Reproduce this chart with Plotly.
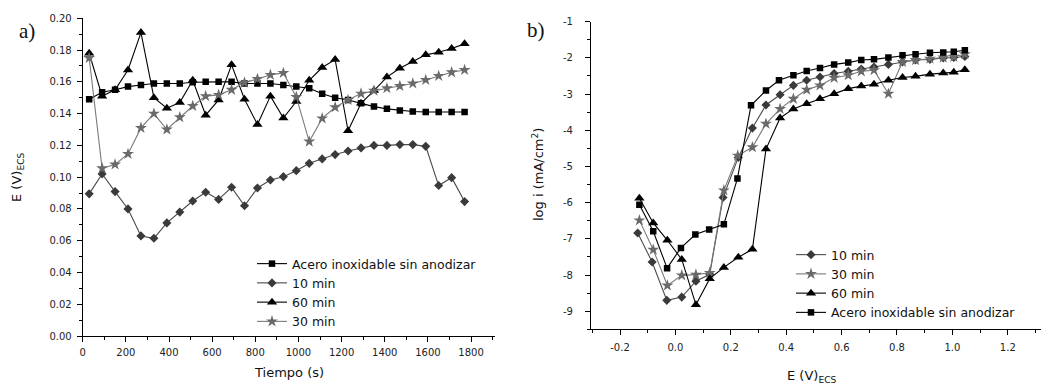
import plotly.graph_objects as go

# ---------------- panel a) : E vs tiempo ----------------
tiempo = [30, 90, 150, 210, 270, 330, 390, 450, 510, 570, 630, 690, 750, 810, 870,
          930, 990, 1050, 1110, 1170, 1230, 1290, 1350, 1410, 1470, 1530, 1590, 1650, 1710, 1770]
E_acero = [0.149, 0.1535, 0.155, 0.157, 0.158, 0.159, 0.159, 0.159, 0.1597, 0.160,
           0.160, 0.160, 0.159, 0.159, 0.159, 0.158, 0.157, 0.156, 0.1525, 0.150,
           0.1486, 0.1465, 0.1444, 0.143, 0.142, 0.1413, 0.141, 0.141, 0.141, 0.141]
E_10 = [0.0895, 0.102, 0.0909, 0.080, 0.063, 0.0615, 0.0712, 0.078, 0.085, 0.0905,
        0.086, 0.0936, 0.082, 0.0932, 0.0982, 0.1003, 0.1041, 0.1087, 0.1115, 0.1142,
        0.1165, 0.1184, 0.120, 0.120, 0.1205, 0.1205, 0.1194, 0.0947, 0.0997, 0.0846]
E_60 = [0.178, 0.151, 0.155, 0.1675, 0.191, 0.150, 0.1434, 0.147, 0.161, 0.139,
        0.1486, 0.1707, 0.149, 0.1332, 0.151, 0.1372, 0.1476, 0.161, 0.169, 0.174,
        0.1292, 0.1465, 0.1545, 0.163, 0.1685, 0.1728, 0.177, 0.1786, 0.181, 0.1839]
E_30 = [0.175, 0.1056, 0.108, 0.1146, 0.131, 0.140, 0.130, 0.1377, 0.1448, 0.151,
        0.1518, 0.155, 0.1595, 0.1618, 0.1644, 0.1656, 0.1505, 0.1224, 0.137, 0.144,
        0.1486, 0.1526, 0.1545, 0.156, 0.1574, 0.159, 0.1612, 0.1637, 0.166, 0.1675]

# ---------------- panel b) : log i vs E ----------------
Eb_acero = [-0.13, -0.08, -0.03, 0.02, 0.072, 0.122, 0.175, 0.224, 0.273, 0.327, 0.374, 0.426, 0.474,
            0.522, 0.573, 0.624, 0.671, 0.717, 0.769, 0.82, 0.867, 0.919, 0.967, 1.005, 1.045]
logi_acero = [-6.06, -6.79, -7.81, -7.25, -6.88, -6.74, -6.6, -5.33, -3.31, -2.90, -2.62, -2.48, -2.36,
              -2.28, -2.18, -2.13, -2.06, -2.04, -1.99, -1.93, -1.90, -1.86, -1.85, -1.83, -1.79]
Eb_10 = [-0.136, -0.084, -0.031, 0.023, 0.074, 0.124, 0.172, 0.227, 0.278, 0.327, 0.378, 0.426, 0.474,
         0.522, 0.573, 0.624, 0.671, 0.717, 0.769, 0.82, 0.867, 0.919, 0.967, 1.005, 1.045]
logi_10 = [-6.84, -7.64, -8.70, -8.61, -8.17, -7.98, -5.86, -4.75, -3.94, -3.30, -3.02, -2.76, -2.62,
           -2.53, -2.43, -2.37, -2.31, -2.25, -2.18, -2.11, -2.06, -2.04, -2.00, -1.99, -1.96]
Eb_30 = [-0.13, -0.08, -0.029, 0.023, 0.074, 0.124, 0.175, 0.225, 0.278, 0.327, 0.378, 0.426, 0.474,
         0.522, 0.573, 0.624, 0.671, 0.717, 0.769, 0.82, 0.867, 0.919, 0.967, 1.005, 1.045]
logi_30 = [-6.49, -7.30, -8.29, -8.01, -7.99, -7.94, -5.66, -4.70, -4.47, -3.82, -3.41, -3.13, -2.88,
           -2.76, -2.55, -2.48, -2.37, -2.34, -2.99, -2.11, -2.06, -2.02, -1.99, -1.97, -1.90]
Eb_60 = [-0.13, -0.08, -0.029, 0.023, 0.074, 0.124, 0.175, 0.227, 0.278, 0.327, 0.378, 0.426, 0.474,
         0.522, 0.573, 0.624, 0.671, 0.717, 0.769, 0.82, 0.867, 0.919, 0.967, 1.005, 1.045]
logi_60 = [-5.88, -6.56, -7.04, -7.57, -8.82, -8.10, -7.79, -7.51, -7.29, -4.52, -3.66, -3.41, -3.27,
           -3.13, -2.99, -2.85, -2.78, -2.73, -2.62, -2.54, -2.51, -2.45, -2.42, -2.40, -2.33]

# tick labels
xb_tickvals = [-0.2, 0.0, 0.2, 0.4, 0.6, 0.8, 1.0, 1.2]
xb_ticktext = ["-0.2", "0.0", "0.2", "0.4", "0.6", "0.8", "1.0", "1.2"]
yb_tickvals = [-9, -8, -7, -6, -5, -4, -3, -2, -1]
yb_ticktext = ["-9", "-8", "-7", "-6", "-5", "-4", "-3", "-2", "-1"]

W, H = 1041, 386
def px(x):
    return x / W
def py(y):
    return 1 - y / H

FONT = "DejaVu Sans"
styles = {
    "acero": dict(line=dict(color="#000000", width=1.1),
                  marker=dict(symbol="square", size=6.5, color="#000000")),
    "10": dict(line=dict(color="#4a4a4a", width=1.1),
               marker=dict(symbol="diamond", size=7, color="#3a3a3a")),
    "60": dict(line=dict(color="#000000", width=1.1),
               marker=dict(symbol="triangle-up", size=9, color="#000000")),
    "30": dict(line=dict(color="#7a7a7a", width=1.1),
               marker=dict(symbol="star", size=9, color="#6a6a6a")),
}
names = {"acero": "Acero inoxidable sin anodizar", "10": "10 min", "60": "60 min", "30": "30 min"}

fig = go.Figure()
left = {"acero": E_acero, "10": E_10, "60": E_60, "30": E_30}
for key in ["acero", "10", "60", "30"]:
    fig.add_trace(go.Scatter(x=tiempo, y=left[key], mode="lines+markers", name=names[key],
                             xaxis="x", yaxis="y", legend="legend", **styles[key]))

right = {"10": (Eb_10, logi_10), "30": (Eb_30, logi_30), "60": (Eb_60, logi_60),
         "acero": (Eb_acero, logi_acero)}
for key in ["10", "30", "60", "acero"]:
    xs, ys = right[key]
    fig.add_trace(go.Scatter(x=xs, y=ys, mode="lines+markers", name=names[key],
                             xaxis="x2", yaxis="y2", legend="legend2", **styles[key]))

axis_common = dict(showline=True, linecolor="#000", linewidth=1, ticks="outside", ticklen=5,
                   tickwidth=1, tickcolor="#000", showgrid=False, zeroline=False,
                   tickfont=dict(family=FONT, size=10, color="#222"))

fig.update_layout(
    width=W, height=H, margin=dict(l=0, r=0, t=0, b=0, autoexpand=False),
    paper_bgcolor="white", plot_bgcolor="white",
    xaxis=dict(domain=[px(82.7), px(495)], range=[0, 1911], anchor="y", tick0=0, dtick=200,
               minor=dict(ticks="outside", ticklen=3, dtick=100, tickcolor="#000"),
               ticklabelstandoff=2, **axis_common),
    yaxis=dict(domain=[py(336), py(18.3)], range=[0, 0.2], anchor="x", tick0=0, dtick=0.02,
               tickformat=".2f",
               minor=dict(ticks="outside", ticklen=3, dtick=0.01, tickcolor="#000"),
               ticklabelstandoff=3, **axis_common),
    xaxis2=dict(domain=[px(591), 1.0], range=[-0.3047, 1.3199], anchor="y2",
                tickvals=xb_tickvals, ticktext=xb_ticktext,
                minor=dict(ticks="outside", ticklen=3, dtick=0.1, tick0=0, tickcolor="#000"),
                ticklabelstandoff=4, **axis_common),
    yaxis2=dict(domain=[py(329.3), py(21.7)], range=[-9.5, -1], anchor="x2",
                tickvals=yb_tickvals, ticktext=yb_ticktext,
                minor=dict(ticks="outside", ticklen=3, dtick=0.5, tick0=0, tickcolor="#000"),
                ticklabelstandoff=10, **axis_common),
    legend=dict(x=px(252), y=py(249), xanchor="left", yanchor="top", bgcolor="rgba(0,0,0,0)",
                font=dict(family=FONT, size=12.5, color="#111"), itemwidth=30, tracegroupgap=0,
                traceorder="normal"),
    legend2=dict(x=px(791), y=py(240), xanchor="left", yanchor="top", bgcolor="rgba(0,0,0,0)",
                 font=dict(family=FONT, size=12.5, color="#111"), itemwidth=30, tracegroupgap=0,
                 traceorder="normal"),
    showlegend=True,
)

ann_font = dict(family=FONT, size=13, color="#111")
annotations = [
    dict(text="a)", x=px(27), y=py(31), font=dict(family="Liberation Serif", size=21, color="#111")),
    dict(text="b)", x=px(536), y=py(30), font=dict(family="Liberation Serif", size=21, color="#111")),
    dict(text="E (V)<sub>ECS</sub>", x=px(17), y=py(178), textangle=-90, font=ann_font),
    dict(text="Tiempo (s)", x=px(289), y=py(372), font=ann_font),
    dict(text="log i (mA/cm<sup>2</sup>)", x=px(538), y=py(175), textangle=-90, font=ann_font),
    dict(text="E (V)<sub>ECS</sub>", x=px(811), y=py(376), font=ann_font),
]
for a in annotations:
    a.update(xref="paper", yref="paper", showarrow=False, xanchor="center", yanchor="middle")
fig.update_layout(annotations=annotations)

fig.write_html("out.html", config={"displayModeBar": False},
               post_script="document.body.style.margin='0px';")
